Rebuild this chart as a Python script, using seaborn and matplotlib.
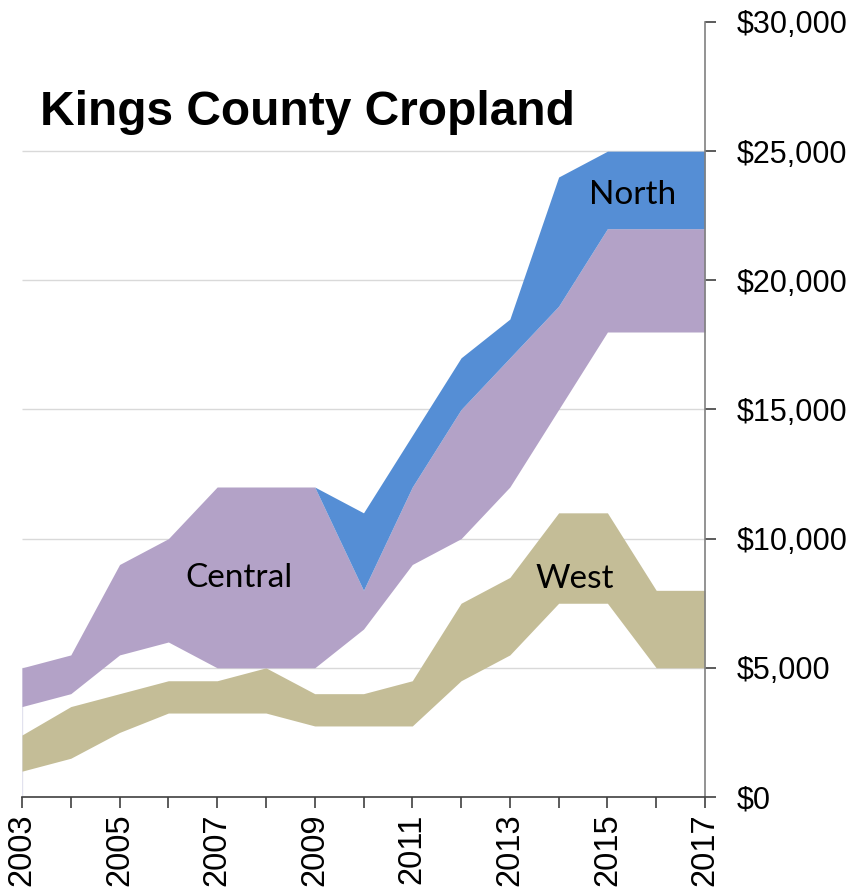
"""
Kings County Cropland - 价格区间面积图
"""

import matplotlib
matplotlib.use('Agg')
import matplotlib.pyplot as plt
from matplotlib.ticker import MultipleLocator, FixedLocator, FuncFormatter
import seaborn as sns

# 数据
years = list(range(2003, 2018))
west_low = [1000, 1500, 2500, 3250, 3250, 3250, 2750, 2750, 2750, 4500, 5500, 7500, 7500, 5000, 5000]
west_high = [2400, 3500, 4000, 4500, 4500, 5000, 4000, 4000, 4500, 7500, 8500, 11000, 11000, 8000, 8000]
central_low = [3500, 4000, 5500, 6000, 5000, 5000, 5000, 6500, 9000, 10000, 12000, 15000, 18000, 18000, 18000]
central_high = [5000, 5500, 9000, 10000, 12000, 12000, 12000, 8000, 12000, 15000, 17000, 19000, 22000, 22000, 22000]
north_high = [5000, 5500, 9000, 10000, 12000, 12000, 12000, 11000, 14000, 17000, 18500, 24000, 25000, 25000, 25000]

colors = {'North': '#558ED5', 'Central': '#B3A2C7', 'West': '#C4BD97'}

sns.set_theme(style='white')
plt.rcParams['font.family'] = ['Liberation Sans', 'DejaVu Sans']

fig = plt.figure(figsize=(8.51, 8.90), dpi=100)
ax = fig.add_axes([22 / 851, 93 / 890, 683 / 851, 775 / 890])

# 面积带
ax.fill_between(years, west_low, west_high, color=colors['West'], linewidth=0, zorder=2)
ax.fill_between(years, central_low, central_high, color=colors['Central'], linewidth=0, zorder=2)
ax.fill_between(years, central_high, north_high, color=colors['North'], linewidth=0, zorder=2)
ax.vlines(years[0], 0, central_high[0], color='#e2e2ee', linewidth=1, zorder=1)

ax.set_xlim(years[0], years[-1])
ax.set_ylim(0, 30000)

# 网格线 (顶部不画)
grid_levels = list(range(5000, 30000, 5000))
ax.hlines(grid_levels, years[0], years[-1], color='#d9d9d9', linewidth=1.0, zorder=1)

# 坐标轴样式
sns.despine(ax=ax, left=True, top=True, right=False, bottom=False)
ax.spines['right'].set_color('#808080')
ax.spines['bottom'].set_color('#404040')
ax.spines['right'].set_linewidth(1.2)
ax.spines['bottom'].set_linewidth(1.2)

ax.yaxis.tick_right()
ax.yaxis.set_major_locator(MultipleLocator(5000))
ax.yaxis.set_major_formatter(FuncFormatter(lambda v, p: f'${v:,.0f}'))
ax.tick_params(axis='y', which='major', direction='out', length=8, width=1.2,
               color='#404040', pad=15, labelsize=22, labelcolor='black',
               right=True, left=False)

ax.xaxis.set_major_locator(FixedLocator(years[::2]))
ax.xaxis.set_minor_locator(FixedLocator(years[1::2]))
ax.xaxis.set_major_formatter(FuncFormatter(lambda v, p: f'{int(v)}'))
ax.tick_params(axis='x', which='both', direction='out', length=8, width=1.2,
               color='#404040', bottom=True)
ax.tick_params(axis='x', which='major', pad=4, labelsize=23.5, labelrotation=90,
               labelcolor='black')
ax.set_xlabel('')
ax.set_ylabel('')

# 区域标签
label_font = ['Lato', 'DejaVu Sans']
ax.text(2015.51, 22955, 'North', ha='center', va='baseline', fontsize=24,
        family=label_font, color='black', zorder=5)
ax.text(2007.44, 8129, 'Central', ha='center', va='baseline', fontsize=24,
        family=label_font, color='black', zorder=5)
ax.text(2014.33, 8090, 'West', ha='center', va='baseline', fontsize=24,
        family=label_font, color='black', zorder=5)

# 标题
fig.text(40 / 851, 1 - 125 / 890, 'Kings County Cropland', ha='left', va='baseline',
         fontsize=34.5, fontweight='bold', color='black')

fig.savefig('out.png', dpi=100)
